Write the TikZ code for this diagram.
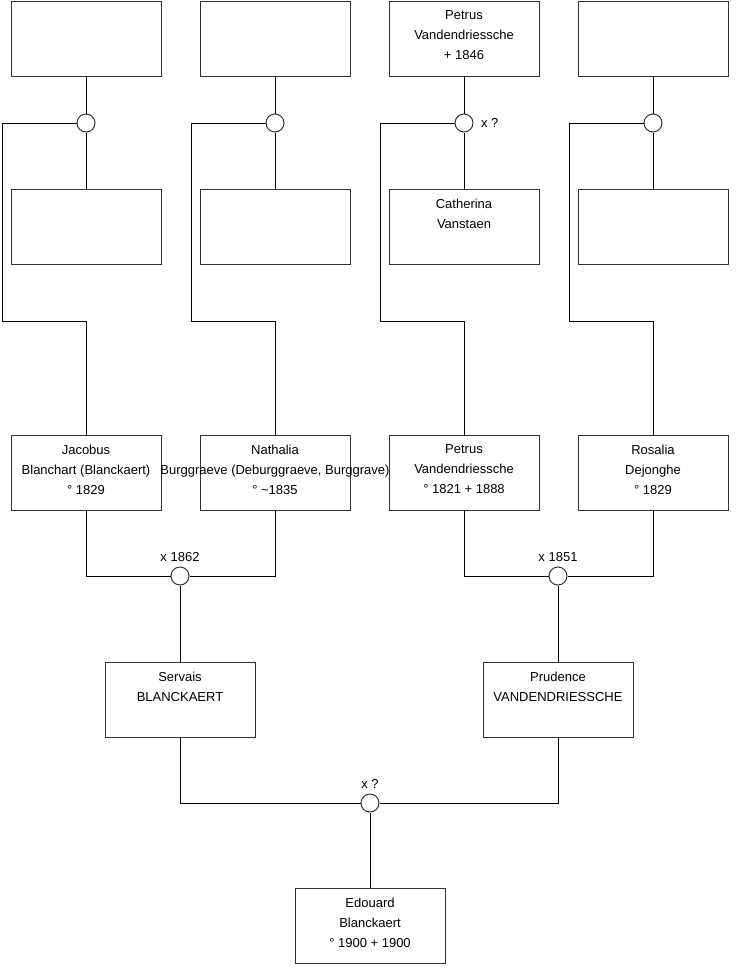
\documentclass[tikz,border=0pt]{standalone}
\usepackage{fontspec}
\setmainfont{Liberation Sans}
\begin{document}
\begin{tikzpicture}[x=0.75pt,y=-0.75pt,
  person/.style={draw=black!80,line width=0.75pt,minimum width=112.5pt,minimum height=56.25pt,inner sep=0pt,anchor=north},
  ptext/.style={anchor=north,inner sep=0pt,yshift=-7.3pt,align=center,font=\fontsize{9.75pt}{15pt}\selectfont},
  knot/.style={draw=black!80,line width=0.75pt,circle,minimum size=13.5pt,inner sep=0pt,fill=white},
  mlab/.style={inner sep=0pt,font=\fontsize{9.75pt}{15pt}\selectfont},
  link/.style={draw=black,line width=0.75pt}]
\useasboundingbox (0,0) rectangle (740,975);
% top row
\node[person] (t1) at (86,1) {};
\node[person] (t2) at (275,1) {};
\node[person,label={[ptext]north:Petrus\\Vandendriessche\\+ 1846}] (t3) at (464,1) {};
\node[person] (t4) at (653,1) {};
% second row
\node[person] (w1) at (86,189) {};
\node[person] (w2) at (275,189) {};
\node[person,label={[ptext]north:Catherina\\Vanstaen}] (w3) at (464,189) {};
\node[person] (w4) at (653,189) {};
% knots first generation
\node[knot] (c1) at (86,123) {};
\node[knot] (c2) at (275,123) {};
\node[knot,label={[mlab,label distance=5.5pt]right:x ?}] (c3) at (464,123) {};
\node[knot] (c4) at (653,123) {};
% third row
\node[person,label={[ptext]north:Jacobus\\Blanchart (Blanckaert)\\° 1829}] (p1) at (86,435) {};
\node[person,label={[ptext]north:Nathalia\\Burggraeve (Deburggraeve, Burggrave)\\° \textasciitilde1835}] (p2) at (275,435) {};
\node[person,label={[ptext]north:Petrus\\Vandendriessche\\° 1821 + 1888}] (p3) at (464,435) {};
\node[person,label={[ptext]north:Rosalia\\Dejonghe\\° 1829}] (p4) at (653,435) {};
% knots second generation
\node[knot,label={[mlab,label distance=3.5pt]above:x 1862}] (m1) at (180,576) {};
\node[knot,label={[mlab,label distance=3.5pt]above:x 1851}] (m2) at (558,576) {};
% fourth row
\node[person,label={[ptext]north:Servais\\BLANCKAERT}] (s1) at (180,662) {};
\node[person,label={[ptext]north:Prudence\\VANDENDRIESSCHE}] (s2) at (558,662) {};
\node[knot,label={[mlab,label distance=3.5pt]above:x ?}] (m3) at (370,803) {};
\node[person,label={[ptext]north:Edouard\\Blanckaert\\° 1900 + 1900}] (e) at (370,888) {};
% bend coordinates
\coordinate (k1) at (2,321);
\coordinate (k2) at (191,321);
\coordinate (k3) at (380,321);
\coordinate (k4) at (569,321);
% connectors top
\draw[link] (t1) -- (c1) -- (w1);
\draw[link] (t2) -- (c2) -- (w2);
\draw[link] (t3) -- (c3) -- (w3);
\draw[link] (t4) -- (c4) -- (w4);
\draw[link] (c1.west) -| (k1) -| (p1.north);
\draw[link] (c2.west) -| (k2) -| (p2.north);
\draw[link] (c3.west) -| (k3) -| (p3.north);
\draw[link] (c4.west) -| (k4) -| (p4.north);
% connectors middle
\draw[link] (p1.south) |- (m1.west);
\draw[link] (p2.south) |- (m1.east);
\draw[link] (m1) -- (s1);
\draw[link] (p3.south) |- (m2.west);
\draw[link] (p4.south) |- (m2.east);
\draw[link] (m2) -- (s2);
% connectors bottom
\draw[link] (s1.south) |- (m3.west);
\draw[link] (s2.south) |- (m3.east);
\draw[link] (m3) -- (e);
\end{tikzpicture}
\end{document}
